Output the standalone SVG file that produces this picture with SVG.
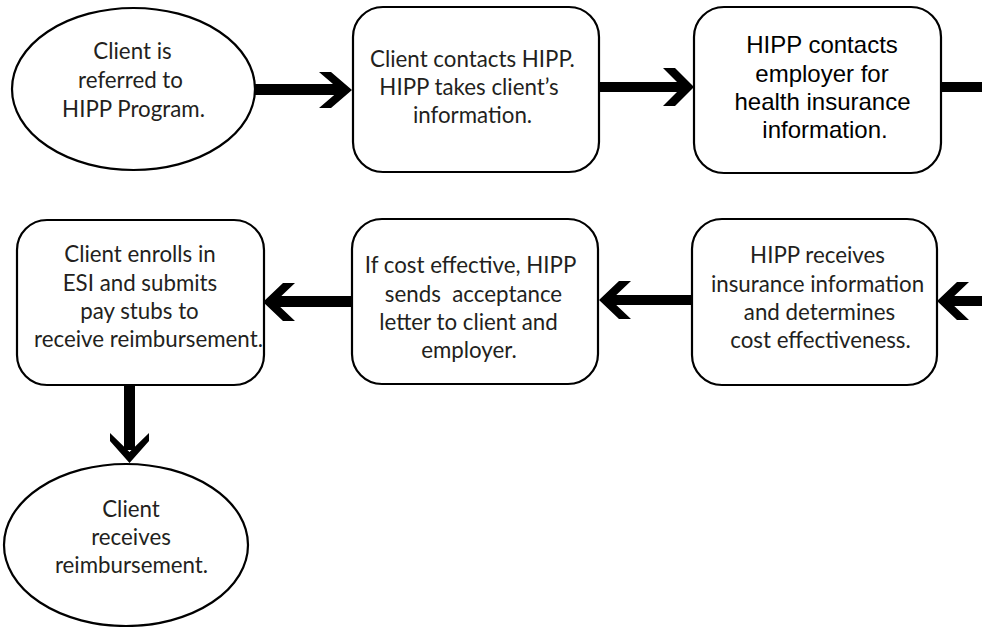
<svg xmlns="http://www.w3.org/2000/svg" width="982" height="627" viewBox="0 0 982 627">
  <style>
    .shape { fill: #ffffff; stroke: #000000; stroke-width: 2.2; }
    .label { font-family: Lato, "Open Sans", sans-serif; font-size: 22.3px; fill: #231f20; text-anchor: middle; }
    .label-arial { font-family: "Liberation Sans", Arial, sans-serif; font-size: 24px; fill: #000000; text-anchor: middle; }
    .conn { fill: #000000; stroke: none; }
  </style>
  <rect width="982" height="627" fill="#ffffff"/>

  <!-- connectors: thick shafts with chevron heads -->
  <g id="connectors">
    <!-- start ellipse -> contact box -->
    <rect class="conn" x="254" y="84" width="86" height="11"/>
    <polygon class="conn" points="319,72 331,72 352,90 331,108 319,108 340,90"/>
    <!-- contact box -> employer box -->
    <rect class="conn" x="598" y="82" width="86" height="10"/>
    <polygon class="conn" points="663,68 675,68 694,87 675,106 663,106 682,87"/>
    <!-- employer box -> wraps to next row -->
    <rect class="conn" x="940" y="82" width="42" height="10"/>
    <!-- wrap in -> determines box -->
    <rect class="conn" x="948" y="296" width="34" height="10"/>
    <polygon class="conn" points="937,301 957,282 969,282 949,301 969,320 957,320"/>
    <!-- determines box -> acceptance box -->
    <rect class="conn" x="610" y="295" width="83" height="10"/>
    <polygon class="conn" points="599,300 619,281 631,281 611,300 631,319 619,319"/>
    <!-- acceptance box -> enrollment box -->
    <rect class="conn" x="274" y="296" width="79" height="11"/>
    <polygon class="conn" points="263,302 283,283 295,283 275,302 295,321 283,321"/>
    <!-- enrollment box -> reimbursement ellipse -->
    <rect class="conn" x="124" y="384" width="11" height="66"/>
    <polygon class="conn" points="110,433 129.5,452 149,433 149,441 129.5,463 110,441"/>
  </g>

  <g id="referred">
    <ellipse class="shape" cx="133.5" cy="89" rx="121.5" ry="81"/>
    <text class="label" x="132.5" y="59">Client is</text>
    <text class="label" x="130.5" y="88">referred to</text>
    <text class="label" x="133.5" y="117">HIPP Program.</text>
  </g>

  <g id="contacts">
    <rect class="shape" x="353" y="7" width="246" height="165" rx="30" ry="30"/>
    <text class="label" x="472.5" y="67">Client contacts HIPP.</text>
    <text class="label" x="469" y="95">HIPP takes client’s</text>
    <text class="label" x="472.5" y="123">information.</text>
  </g>

  <g id="employer">
    <rect class="shape" x="694" y="7" width="247" height="166" rx="30" ry="30"/>
    <text class="label-arial" x="822" y="53">HIPP contacts</text>
    <text class="label-arial" x="822" y="82">employer for</text>
    <text class="label-arial" x="822.5" y="110">health insurance</text>
    <text class="label-arial" x="825" y="138">information.</text>
  </g>

  <g id="determines">
    <rect class="shape" x="692" y="219" width="245" height="166" rx="30" ry="30"/>
    <text class="label" x="817.5" y="263">HIPP receives</text>
    <text class="label" x="817.5" y="292">insurance information</text>
    <text class="label" x="819.5" y="320">and determines</text>
    <text class="label" x="820.5" y="348">cost effectiveness.</text>
  </g>

  <g id="acceptance">
    <rect class="shape" x="352" y="219" width="246" height="165" rx="30" ry="30"/>
    <text class="label" x="470.5" y="273">If cost effective, HIPP</text>
    <text class="label" x="473.5" y="302" xml:space="preserve">sends  acceptance</text>
    <text class="label" x="468.5" y="330">letter to client and</text>
    <text class="label" x="469" y="358">employer.</text>
  </g>

  <g id="enrolls">
    <rect class="shape" x="17" y="220" width="247" height="165" rx="30" ry="30"/>
    <text class="label" x="140" y="262">Client enrolls in</text>
    <text class="label" x="140" y="291">ESI and submits</text>
    <text class="label" x="139.5" y="319">pay stubs to</text>
    <text class="label" x="148.5" y="347">receive reimbursement.</text>
  </g>

  <g id="reimbursed">
    <ellipse class="shape" cx="126" cy="545" rx="122" ry="81"/>
    <text class="label" x="131" y="517">Client</text>
    <text class="label" x="131" y="545">receives</text>
    <text class="label" x="131.5" y="573">reimbursement.</text>
  </g>
</svg>
